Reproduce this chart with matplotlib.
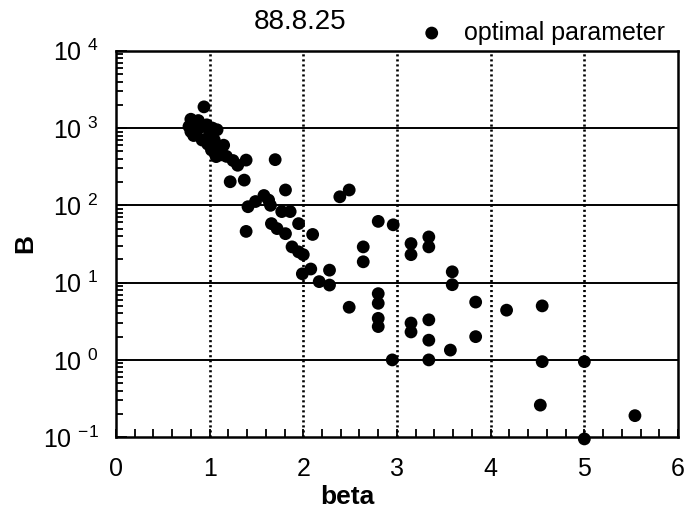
import math
import matplotlib
matplotlib.use("Agg")
import matplotlib.pyplot as plt
from matplotlib.ticker import FixedLocator, FuncFormatter, LogLocator, NullFormatter, MultipleLocator

plt.rcParams['font.family'] = ['Liberation Sans', 'DejaVu Sans']
plt.rcParams['mathtext.default'] = 'regular'

# optimal parameter pairs (beta, B)
beta = [
    0.94, 0.80, 0.78, 0.85, 0.87, 0.92, 0.97, 1.03, 0.83, 0.92,
    0.98, 1.05, 1.10, 1.02, 1.12, 1.18, 1.25, 1.30, 1.39, 1.07,
    0.80, 0.88, 1.00, 1.08, 1.15,
    1.70, 1.22, 1.37,
    1.41, 1.49, 1.58, 1.63, 1.65, 1.81,
    1.77, 1.86, 1.95, 1.66, 1.72, 1.81,
    1.39, 2.10,
    1.88, 1.95, 2.00,
    1.99, 2.08, 2.17, 2.28, 2.28,
    2.39, 2.49,
    2.80, 2.96,
    2.64, 2.64,
    3.15, 3.15, 3.34, 3.34,
    2.49,
    2.80, 2.80, 2.80, 2.80,
    3.15, 3.15, 3.34, 3.34,
    2.95, 3.34,
    3.59, 3.59, 3.84, 4.17, 4.55,
    3.57, 3.84,
    4.55, 5.00, 4.53, 5.00, 5.54,
]
B = [
    1880, 1300, 1050, 1150, 950, 1050, 1100, 1000, 800, 700,
    620, 700, 560, 520, 450, 430, 380, 330, 385, 427,
    900, 1250, 850, 950, 600,
    390, 202, 212,
    96, 112, 134, 117, 100, 158,
    83, 83, 58, 58, 50, 43,
    46, 42,
    29, 25, 23,
    13, 15, 10.3, 14.5, 9.3,
    129, 158,
    62, 56,
    29, 18.6,
    32, 23, 39, 29,
    4.8,
    7.2, 5.4, 3.45, 2.7,
    3.0, 2.3, 3.3, 1.8,
    1.0, 1.0,
    13.8, 9.4, 5.6, 4.4, 5.0,
    1.34, 2.0,
    0.95, 0.95, 0.26, 0.095, 0.19,
]

x_ticks = [0, 1, 2, 3, 4, 5, 6]
y_decades = [-1, 0, 1, 2, 3, 4]

fig = plt.figure(figsize=(6.94, 5.18), dpi=100)
ax = fig.add_axes([0.167, 0.156, 0.810, 0.746])

ax.set_yscale('log')
ax.set_xlim(0, 6)
ax.set_ylim(10.0 ** y_decades[0], 10.0 ** y_decades[-1])

# grid: solid rules at each decade, dotted rules at each integer beta
for d in y_decades[1:-1]:
    ax.axhline(10.0 ** d, color='black', lw=1.4, zorder=1)
for xv in x_ticks[1:-1]:
    ax.axvline(xv, color='black', lw=1.9, ls=(0, (0.8, 1.1)), zorder=1)

ax.scatter(beta, B, s=85, color='black', edgecolors='none', zorder=3,
           clip_on=False, label='optimal parameter')


def decade_label(v, pos):
    e = round(math.log10(v))
    exp = ('-%d' % abs(e)) if e < 0 else ('%d' % e)
    return '10 $^{%s}$' % exp


ax.xaxis.set_major_locator(FixedLocator(x_ticks))
ax.xaxis.set_minor_locator(MultipleLocator(0.2))
ax.yaxis.set_major_locator(FixedLocator([10.0 ** d for d in y_decades]))
ax.yaxis.set_minor_locator(LogLocator(base=10, subs=range(2, 10), numticks=20))
ax.yaxis.set_minor_formatter(NullFormatter())
ax.yaxis.set_major_formatter(FuncFormatter(decade_label))

ax.tick_params(axis='both', which='both', direction='in', top=False, right=False,
               color='black', width=1.3)
ax.tick_params(axis='x', which='major', length=6, pad=14, labelsize=18)
ax.tick_params(axis='x', which='minor', length=6)
ax.tick_params(axis='y', which='major', length=8, pad=12, labelsize=18)
ax.tick_params(axis='y', which='minor', length=5)

for sp in ax.spines.values():
    sp.set_linewidth(1.8)
    sp.set_color('black')

ax.set_xlabel('beta', fontsize=19, fontweight='bold')
ax.xaxis.set_label_coords(0.411, -0.125)
ax.set_ylabel('B', fontsize=19, fontweight='bold')
ax.yaxis.set_label_coords(-0.14, 0.5)

fig.text(0.432, 0.957, '88.8.25', fontsize=20, ha='center', va='center')

ax.legend(loc='lower right', bbox_to_anchor=(0.995, 0.99), frameon=False,
          fontsize=18, handletextpad=0.3, borderaxespad=0.0, markerscale=1.0)

fig.savefig('out.png', dpi=100)
